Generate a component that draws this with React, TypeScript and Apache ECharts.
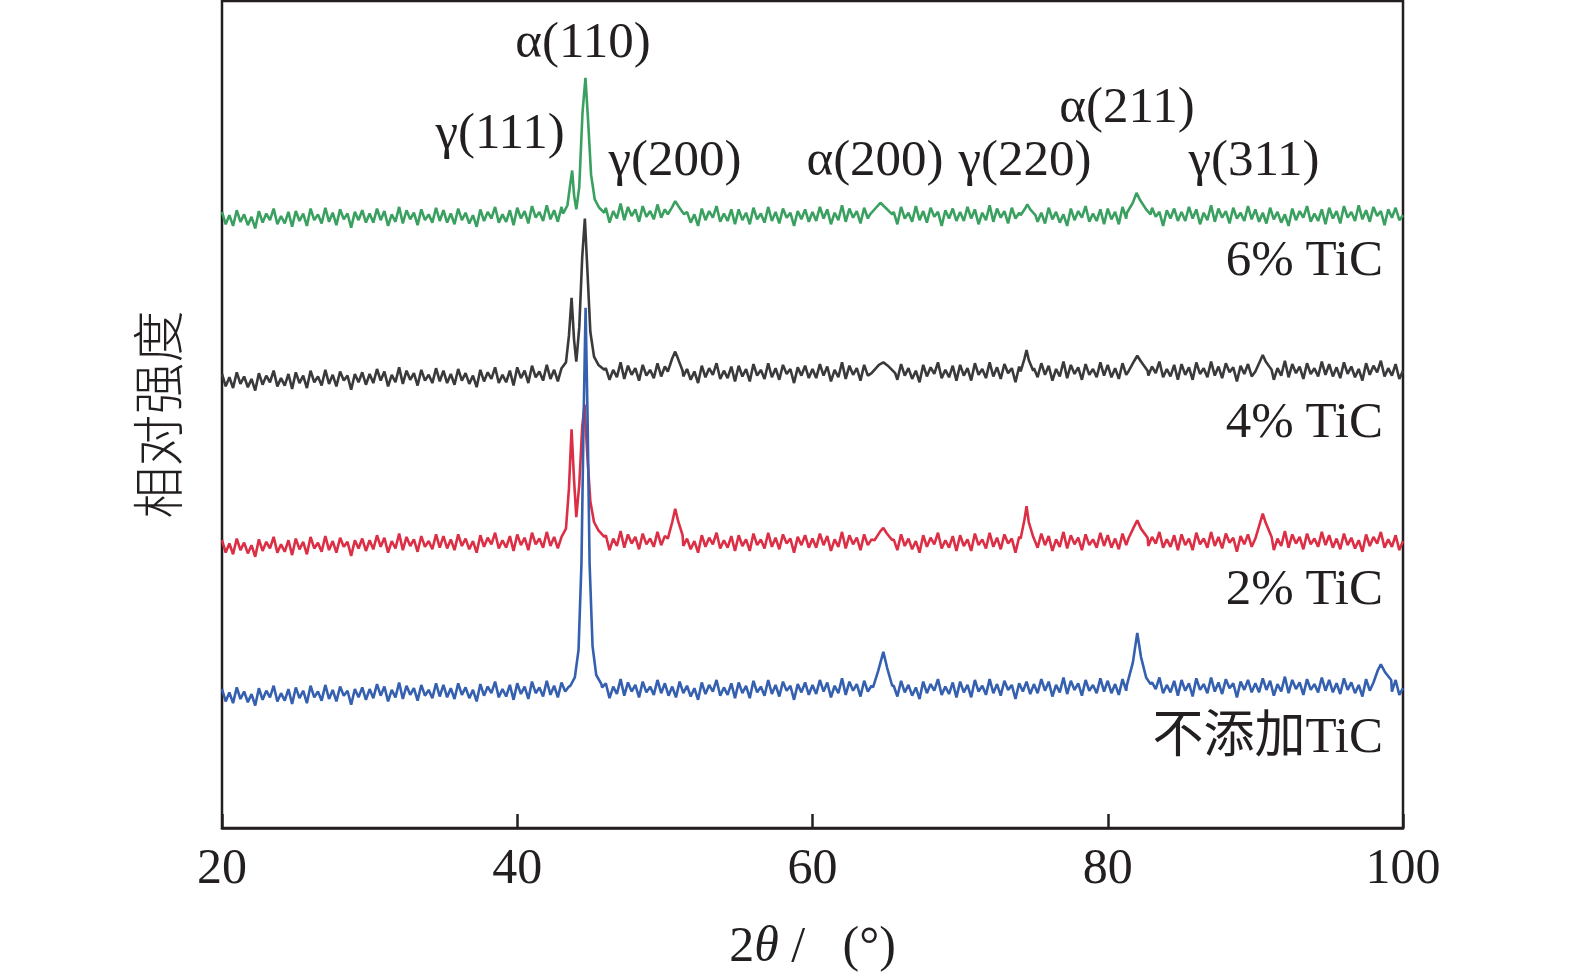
import React, { useEffect, useRef } from "react";
import * as echarts from "echarts";

// x axis: 2θ (degrees)
const X_MIN = 20;
const X_MAX = 100;
const X_TICK = 20;
// baseline samples every 0.25° from 20° to 100°
const BASE_START = 20;
const BASE_STEP = 0.25;

const seriesNames = ["2% TiC", "不添加TiC", "4% TiC", "6% TiC"];

// ---- 6% TiC (green) ----
const green6Base = [
  74.5, 73.0, 74.1, 72.8, 74.7, 73.3, 74.2, 72.9, 73.9, 72.5, 74.6, 73.2, 74.3, 73.5, 74.9, 73.0, 74.0, 73.1, 74.5, 72.7,
  74.6, 73.4, 74.3, 72.8, 74.9, 73.5, 74.2, 73.1, 75.0, 73.3, 74.4, 72.9, 74.8, 73.6, 74.3, 72.6, 74.5, 73.5, 74.7, 73.2,
  74.3, 73.2, 74.9, 73.5, 74.6, 72.8, 74.2, 73.3, 75.1, 73.1, 74.7, 73.6, 74.4, 72.9, 74.8, 73.5, 74.2, 73.2, 75.0, 73.4,
  74.7, 73.2, 74.3, 73.0, 74.9, 73.5, 74.4, 73.1, 74.1, 72.7, 74.8, 73.4, 74.5, 73.7, 75.1, 73.2, 74.2, 73.3, 74.7, 72.9,
  75.0, 73.7, 74.6, 73.1, 75.2, 73.8, 74.5, 73.4, 75.3, 73.6, 74.7, 73.3, 75.1, 74.0, 74.6, 73.9, 75.0, 74.3, 75.2, 74.5,
  74.9, 74.6, 75.1, 74.3, 75.0, 73.2, 74.6, 73.7, 75.5, 73.5, 75.1, 74.0, 74.8, 73.3, 75.2, 73.9, 74.6, 73.6, 75.4, 73.8,
  74.8, 73.3, 74.4, 73.1, 75.0, 73.6, 74.5, 73.2, 74.2, 72.8, 74.9, 73.5, 74.6, 73.8, 75.2, 73.3, 74.3, 73.4, 74.8, 73.0,
  74.8, 73.5, 74.4, 73.0, 75.0, 73.6, 74.3, 73.2, 75.1, 73.4, 74.5, 73.1, 74.9, 73.8, 74.4, 72.8, 74.6, 73.6, 74.8, 73.3,
  74.5, 73.4, 75.1, 73.7, 74.8, 73.0, 74.4, 73.5, 75.3, 73.3, 74.9, 73.8, 74.6, 73.1, 75.0, 73.7, 74.4, 73.4, 75.2, 73.6,
  74.9, 73.6, 74.5, 73.0, 75.1, 73.7, 74.4, 73.3, 75.2, 73.5, 74.6, 73.2, 75.0, 73.9, 74.5, 72.8, 74.7, 73.7, 74.9, 73.4,
  74.5, 73.4, 75.1, 73.7, 74.8, 73.0, 74.4, 73.5, 75.3, 73.3, 74.9, 73.8, 74.6, 73.1, 75.0, 73.7, 74.4, 73.4, 75.2, 73.6,
  74.8, 73.3, 74.4, 73.1, 75.0, 73.6, 74.5, 73.2, 74.2, 72.8, 74.9, 73.5, 74.6, 73.8, 75.2, 73.3, 74.3, 73.4, 74.8, 73.0,
  74.9, 73.6, 74.5, 73.0, 75.1, 73.7, 74.4, 73.3, 75.2, 73.5, 74.6, 73.2, 75.0, 73.9, 74.5, 72.8, 74.7, 73.7, 74.9, 73.4,
  74.5, 73.4, 75.1, 73.7, 74.8, 73.0, 74.4, 73.5, 75.3, 73.3, 74.9, 73.8, 74.6, 73.1, 75.0, 73.7, 74.4, 73.4, 75.2, 73.6,
  74.8, 73.3, 74.4, 73.1, 75.0, 73.6, 74.5, 73.2, 74.2, 72.8, 74.9, 73.5, 74.6, 73.8, 75.2, 73.3, 74.3, 73.4, 74.8, 73.0,
  75.0, 73.7, 74.6, 73.1, 75.2, 73.8, 74.5, 73.4, 75.3, 73.6, 74.7, 73.3, 75.1, 74.0, 74.6, 72.9, 74.8, 73.8, 75.0, 73.5,
  74.1,
];
const green6Peaks = [
  [[43.1, 74.3], [43.4, 75.3], [43.6, 78.0], [43.72, 79.5], [43.85, 76.5], [44.0, 74.8], [44.2, 77.5], [44.42, 86.5], [44.62, 90.7], [44.8, 85.5], [45.0, 79.0], [45.25, 76.0], [45.55, 75.0], [45.9, 74.4]],
  [[50.2, 74.2], [50.5, 75.1], [50.7, 75.8], [50.95, 75.1], [51.3, 74.2]],
  [[63.9, 74.2], [64.3, 75.0], [64.6, 75.6], [64.95, 75.0], [65.4, 74.2]],
  [[74.1, 74.1], [74.4, 74.9], [74.55, 75.4], [74.75, 74.8], [75.1, 74.1]],
  [[81.3, 74.4], [81.7, 75.6], [81.95, 76.8], [82.2, 75.9], [82.6, 74.8], [82.9, 74.2]],
];

// ---- 4% TiC (dark grey) ----
const grey4Base = [
  54.9, 53.4, 54.5, 53.2, 55.1, 53.7, 54.6, 53.3, 54.3, 52.9, 55.0, 53.6, 54.7, 53.9, 55.3, 53.4, 54.4, 53.5, 54.9, 53.1,
  55.1, 53.8, 54.7, 53.2, 55.3, 53.9, 54.6, 53.5, 55.4, 53.7, 54.8, 53.4, 55.2, 54.1, 54.7, 53.0, 54.9, 53.9, 55.1, 53.6,
  54.9, 53.8, 55.5, 54.1, 55.2, 53.4, 54.8, 53.9, 55.7, 53.7, 55.3, 54.2, 55.0, 53.5, 55.4, 54.1, 54.8, 53.8, 55.6, 54.0,
  55.3, 53.8, 54.9, 53.6, 55.5, 54.1, 55.0, 53.7, 54.7, 53.3, 55.4, 54.0, 55.1, 54.3, 55.7, 53.8, 54.8, 53.9, 55.3, 53.5,
  55.7, 54.4, 55.3, 53.8, 55.9, 54.5, 55.2, 54.1, 56.0, 54.3, 55.4, 54.0, 55.8, 55.0, 55.6, 55.1, 55.7, 55.3, 55.9, 55.5,
  55.8, 55.4, 55.9, 55.1, 55.6, 54.2, 55.4, 54.5, 56.3, 54.3, 55.9, 54.8, 55.6, 54.1, 56.0, 54.7, 55.4, 54.4, 56.2, 54.6,
  55.8, 54.3, 55.4, 54.1, 56.0, 54.6, 55.5, 54.2, 55.2, 53.8, 55.9, 54.5, 55.6, 54.8, 56.2, 54.3, 55.3, 54.4, 55.8, 54.0,
  55.9, 54.6, 55.5, 54.0, 56.1, 54.7, 55.4, 54.3, 56.2, 54.5, 55.6, 54.2, 56.0, 54.9, 55.5, 53.8, 55.7, 54.7, 55.9, 54.4,
  55.5, 54.4, 56.1, 54.7, 55.8, 54.0, 55.4, 54.5, 56.3, 54.3, 55.9, 54.8, 55.6, 54.1, 56.0, 54.7, 55.4, 54.4, 56.2, 54.6,
  55.9, 54.4, 55.5, 54.2, 56.1, 54.7, 55.6, 54.3, 55.3, 53.9, 56.0, 54.6, 55.7, 54.9, 56.3, 54.4, 55.4, 54.5, 55.9, 54.1,
  56.0, 54.7, 55.6, 54.1, 56.2, 54.8, 55.5, 54.4, 56.3, 54.6, 55.7, 54.3, 56.1, 55.0, 55.6, 53.9, 55.8, 54.8, 56.0, 54.5,
  55.6, 54.5, 56.2, 54.8, 55.9, 54.1, 55.5, 54.6, 56.4, 54.4, 56.0, 54.9, 55.7, 54.2, 56.1, 54.8, 55.5, 54.5, 56.3, 54.7,
  56.0, 54.5, 55.6, 54.3, 56.2, 54.8, 55.7, 54.4, 55.4, 54.0, 56.1, 54.7, 55.8, 55.0, 56.4, 54.5, 55.5, 54.6, 56.0, 54.2,
  56.1, 54.8, 55.7, 54.2, 56.3, 54.9, 55.6, 54.5, 56.4, 54.7, 55.8, 54.4, 56.2, 55.1, 55.7, 54.0, 55.9, 54.9, 56.1, 54.6,
  55.7, 54.6, 56.3, 54.9, 56.0, 54.2, 55.6, 54.7, 56.5, 54.5, 56.1, 55.0, 55.8, 54.3, 56.2, 54.9, 55.6, 54.6, 56.4, 54.8,
  56.1, 54.6, 55.7, 54.4, 56.3, 54.9, 55.8, 54.5, 55.5, 54.1, 56.2, 54.8, 55.9, 55.1, 56.5, 54.6, 55.6, 54.7, 56.1, 54.3,
  55.3,
];
const grey4Peaks = [
  [[43.0, 55.6], [43.3, 56.3], [43.5, 59.5], [43.68, 64.1], [43.85, 59.0], [44.0, 56.4], [44.2, 60.5], [44.4, 69.0], [44.58, 73.7], [44.75, 67.5], [44.95, 60.0], [45.2, 57.0], [45.5, 56.0], [45.9, 55.4]],
  [[50.2, 55.2], [50.5, 56.8], [50.7, 57.6], [50.9, 56.7], [51.2, 55.3]],
  [[64.0, 55.0], [64.5, 56.0], [64.8, 56.3], [65.1, 55.9], [65.6, 55.0]],
  [[74.1, 55.2], [74.35, 56.7], [74.5, 57.8], [74.65, 56.6], [74.95, 55.3]],
  [[81.4, 55.2], [81.8, 56.5], [82.0, 57.1], [82.25, 56.4], [82.7, 55.3]],
  [[90.0, 55.2], [90.35, 56.6], [90.5, 57.2], [90.7, 56.4], [91.1, 55.4]],
];

// ---- 2% TiC (red) ----
const red2Base = [
  34.8, 33.3, 34.4, 33.1, 35.0, 33.6, 34.5, 33.2, 34.2, 32.8, 34.9, 33.5, 34.6, 33.8, 35.2, 33.3, 34.3, 33.4, 34.8, 33.0,
  35.0, 33.7, 34.6, 33.1, 35.2, 33.8, 34.5, 33.4, 35.3, 33.6, 34.7, 33.3, 35.1, 34.0, 34.6, 32.9, 34.8, 33.8, 35.0, 33.5,
  34.8, 33.7, 35.4, 34.0, 35.1, 33.3, 34.7, 33.8, 35.6, 33.6, 35.2, 34.1, 34.9, 33.4, 35.3, 34.0, 34.7, 33.7, 35.5, 33.9,
  35.3, 33.8, 34.9, 33.6, 35.5, 34.1, 35.0, 33.7, 34.7, 33.3, 35.4, 34.0, 35.1, 34.3, 35.7, 33.8, 34.8, 33.9, 35.3, 33.5,
  35.5, 34.2, 35.1, 33.6, 35.7, 34.3, 35.0, 33.9, 35.8, 34.1, 35.2, 33.8, 35.6, 34.8, 35.4, 34.9, 35.5, 35.1, 35.7, 35.3,
  35.6, 35.2, 35.7, 34.9, 35.4, 33.6, 35.0, 34.1, 35.9, 33.9, 35.5, 34.4, 35.2, 33.7, 35.6, 34.3, 35.0, 34.0, 35.8, 34.2,
  35.3, 33.8, 34.9, 33.6, 35.5, 34.1, 35.0, 33.7, 34.7, 33.3, 35.4, 34.0, 35.1, 34.3, 35.7, 33.8, 34.8, 33.9, 35.3, 33.5,
  35.4, 34.1, 34.9, 33.5, 35.6, 34.2, 34.9, 33.8, 35.7, 34.0, 35.1, 33.7, 35.5, 34.4, 35.0, 33.3, 35.2, 34.2, 35.4, 33.9,
  35.0, 33.9, 35.6, 34.2, 35.3, 33.5, 34.9, 34.0, 35.8, 33.8, 35.4, 34.3, 35.1, 33.6, 35.5, 34.2, 34.9, 33.9, 35.7, 34.1,
  35.3, 33.8, 34.9, 33.6, 35.5, 34.1, 35.0, 33.7, 34.7, 33.3, 35.4, 34.0, 35.1, 34.3, 35.7, 33.8, 34.8, 33.9, 35.3, 33.5,
  35.4, 34.1, 34.9, 33.5, 35.6, 34.2, 34.9, 33.8, 35.7, 34.0, 35.1, 33.7, 35.5, 34.4, 35.0, 33.3, 35.2, 34.2, 35.4, 33.9,
  35.0, 33.9, 35.6, 34.2, 35.3, 33.5, 34.9, 34.0, 35.8, 33.8, 35.4, 34.3, 35.1, 33.6, 35.5, 34.2, 34.9, 33.9, 35.7, 34.1,
  35.4, 33.9, 35.0, 33.7, 35.6, 34.2, 35.1, 33.8, 34.8, 33.4, 35.5, 34.1, 35.2, 34.4, 35.8, 33.9, 34.9, 34.0, 35.4, 33.6,
  35.5, 34.2, 35.0, 33.6, 35.7, 34.3, 35.0, 33.9, 35.8, 34.1, 35.2, 33.8, 35.6, 34.5, 35.1, 33.4, 35.3, 34.3, 35.5, 34.0,
  35.1, 34.0, 35.7, 34.3, 35.4, 33.6, 35.0, 34.1, 35.9, 33.9, 35.5, 34.4, 35.2, 33.7, 35.6, 34.3, 35.0, 34.0, 35.8, 34.2,
  35.4, 33.9, 35.0, 33.7, 35.6, 34.2, 35.1, 33.8, 34.8, 33.4, 35.5, 34.1, 35.2, 34.4, 35.8, 33.9, 34.9, 34.0, 35.4, 33.6,
  34.7,
];
const red2Peaks = [
  [[43.0, 35.2], [43.3, 36.2], [43.5, 41.0], [43.68, 48.2], [43.85, 42.0], [44.0, 37.6], [44.2, 41.5], [44.4, 48.5], [44.56, 51.2], [44.75, 45.0], [44.95, 39.5], [45.2, 37.0], [45.5, 36.0], [45.9, 35.2]],
  [[50.2, 35.0], [50.5, 37.0], [50.7, 38.6], [50.9, 37.1], [51.2, 35.4]],
  [[64.2, 34.8], [64.6, 35.9], [64.8, 36.3], [65.0, 35.7], [65.4, 34.8]],
  [[74.1, 35.0], [74.35, 37.2], [74.5, 38.9], [74.65, 37.0], [74.95, 35.2]],
  [[81.4, 35.0], [81.8, 36.5], [82.0, 37.2], [82.25, 36.2], [82.7, 35.1]],
  [[90.0, 35.0], [90.3, 36.8], [90.5, 38.0], [90.7, 36.9], [91.1, 35.2]],
];

// ---- 不添加TiC (blue) ----
const blue0Base = [
  16.8, 15.3, 16.4, 15.1, 17.0, 15.6, 16.5, 15.2, 16.2, 14.8, 16.9, 15.5, 16.6, 15.8, 17.2, 15.3, 16.3, 15.4, 16.8, 15.0,
  17.0, 15.7, 16.6, 15.1, 17.2, 15.8, 16.5, 15.4, 17.3, 15.6, 16.7, 15.3, 17.1, 16.0, 16.6, 14.9, 16.8, 15.8, 17.0, 15.5,
  16.8, 15.7, 17.4, 16.0, 17.1, 15.3, 16.7, 15.8, 17.6, 15.6, 17.2, 16.1, 16.9, 15.4, 17.3, 16.0, 16.7, 15.7, 17.5, 15.9,
  17.3, 15.8, 16.9, 15.6, 17.5, 16.1, 17.0, 15.7, 16.7, 15.3, 17.4, 16.0, 17.1, 16.3, 17.7, 15.8, 16.8, 15.9, 17.3, 15.5,
  17.5, 16.2, 17.1, 15.6, 17.7, 16.3, 17.0, 15.9, 17.8, 16.1, 17.2, 15.8, 17.6, 16.5, 17.1, 15.4, 17.3, 17.1, 17.7, 17.3,
  17.6, 17.2, 17.7, 17.0, 17.5, 15.7, 17.1, 16.2, 18.0, 16.0, 17.6, 16.5, 17.3, 15.8, 17.7, 16.4, 17.1, 16.1, 17.9, 16.3,
  17.5, 16.0, 17.1, 15.8, 17.7, 16.3, 17.2, 15.9, 16.9, 15.5, 17.6, 16.2, 17.3, 16.5, 17.9, 16.0, 17.0, 16.1, 17.5, 15.7,
  17.6, 16.3, 17.2, 15.7, 17.8, 16.4, 17.1, 16.0, 17.9, 16.2, 17.3, 15.9, 17.7, 16.6, 17.2, 15.5, 17.4, 16.4, 17.6, 16.1,
  17.3, 16.2, 17.9, 16.5, 17.6, 15.8, 17.2, 16.3, 18.1, 16.1, 17.7, 16.6, 17.4, 15.9, 17.8, 16.5, 17.2, 16.2, 18.0, 16.4,
  17.6, 16.1, 17.2, 15.9, 17.8, 16.4, 17.3, 16.0, 17.0, 15.6, 17.7, 16.3, 17.4, 16.6, 18.0, 16.1, 17.1, 16.2, 17.6, 15.8,
  17.7, 16.4, 17.3, 15.8, 17.9, 16.5, 17.2, 16.1, 18.0, 16.3, 17.4, 16.0, 17.8, 16.7, 17.3, 15.6, 17.5, 16.5, 17.7, 16.2,
  17.4, 16.3, 18.0, 16.6, 17.7, 15.9, 17.3, 16.4, 18.2, 16.2, 17.8, 16.7, 17.5, 16.0, 17.9, 16.6, 17.3, 16.3, 18.1, 16.5,
  17.8, 16.3, 17.4, 16.1, 18.0, 16.6, 17.5, 16.2, 17.2, 15.8, 17.9, 16.5, 17.6, 16.8, 18.2, 16.3, 17.3, 16.4, 17.8, 16.0,
  17.9, 16.6, 17.5, 15.9, 18.1, 16.7, 17.4, 16.3, 18.2, 16.5, 17.6, 16.2, 18.0, 16.9, 17.5, 15.8, 17.7, 16.7, 17.9, 16.4,
  17.5, 16.4, 18.1, 16.7, 17.8, 16.0, 17.4, 16.5, 18.3, 16.3, 17.9, 16.8, 17.6, 16.1, 18.0, 16.7, 17.4, 16.4, 18.2, 16.6,
  17.9, 16.4, 17.5, 16.2, 18.1, 16.7, 17.6, 16.3, 17.3, 15.9, 18.0, 16.6, 17.7, 16.9, 18.3, 16.4, 17.4, 16.5, 17.9, 16.1,
  16.9,
];
const blue0Peaks = [
  [[43.6, 17.2], [43.9, 18.2], [44.15, 21.5], [44.35, 32.0], [44.5, 50.0], [44.63, 62.9], [44.76, 50.0], [44.9, 32.0], [45.1, 22.0], [45.35, 18.5], [45.7, 17.4]],
  [[64.1, 17.0], [64.45, 19.0], [64.8, 21.3], [65.05, 19.4], [65.4, 17.2]],
  [[81.3, 17.3], [81.7, 20.0], [82.0, 23.6], [82.25, 20.7], [82.6, 18.2], [82.9, 17.4]],
  [[98.0, 17.6], [98.3, 19.1], [98.5, 19.8], [98.8, 18.8], [99.2, 17.9]],
];

// peak annotations
const peakLabels = ["α(110)", "γ(111)", "γ(200)", "α(200)", "γ(220)", "α(211)", "γ(311)"];

const FONT = "'Liberation Serif', 'Times New Roman', 'Noto Sans CJK SC', serif";
const TEXT_COLOR = "#231f20";

function buildSeries(base: number[], clusters: number[][][]): number[][] {
  const pts: number[][] = [];
  base.forEach((y, i) => {
    const x = BASE_START + i * BASE_STEP;
    const inside = clusters.some((c) => x >= c[0][0] && x <= c[c.length - 1][0]);
    if (!inside) pts.push([x, y]);
  });
  clusters.forEach((c) => c.forEach((p) => pts.push(p)));
  pts.sort((a, b) => a[0] - b[0]);
  return pts;
}

export default function App() {
  const ref = useRef<HTMLDivElement>(null);

  useEffect(() => {
    if (!ref.current) return;
    const chart = echarts.init(ref.current, null, { renderer: "svg" });

    const seriesDefs = [
      { name: seriesNames[0], color: "#dc2f45", data: buildSeries(red2Base, red2Peaks) },
      { name: seriesNames[1], color: "#3560b0", data: buildSeries(blue0Base, blue0Peaks) },
      { name: seriesNames[2], color: "#3a3a3c", data: buildSeries(grey4Base, grey4Peaks) },
      { name: seriesNames[3], color: "#3aa060", data: buildSeries(green6Base, green6Peaks) },
    ];

    const label = (text: string, x: number, y: number, align = "center") => ({
      type: "text",
      x,
      y,
      style: {
        text,
        font: `51px ${FONT}`,
        fill: TEXT_COLOR,
        textAlign: align,
        textVerticalAlign: "middle",
      },
      z: 100,
    });

    chart.setOption({
      animation: false,
      backgroundColor: "#ffffff",
      grid: {
        left: 222,
        right: 172,
        top: 1,
        bottom: 152,
        show: true,
        borderColor: TEXT_COLOR,
        borderWidth: 2.5,
        backgroundColor: "transparent",
      },
      xAxis: {
        type: "value",
        min: X_MIN,
        max: X_MAX,
        interval: X_TICK,
        axisLine: { show: true, lineStyle: { color: TEXT_COLOR, width: 2.5 } },
        axisTick: { show: true, inside: true, length: 14, lineStyle: { color: TEXT_COLOR, width: 2.5 } },
        splitLine: { show: false },
        axisLabel: {
          color: TEXT_COLOR,
          fontFamily: FONT,
          fontSize: 50,
          margin: 13,
        },
        name: "{a|2}{i|θ}{a| /   (°)}",
        nameLocation: "middle",
        nameGap: 91,
        nameTextStyle: {
          rich: {
            a: { fontFamily: FONT, fontSize: 50, color: TEXT_COLOR },
            i: { fontFamily: FONT, fontSize: 50, color: TEXT_COLOR, fontStyle: "italic" },
          },
        },
      },
      yAxis: {
        type: "value",
        min: 0,
        max: 100,
        axisLine: { show: false },
        axisTick: { show: false },
        axisLabel: { show: false },
        splitLine: { show: false },
        name: "相对强度",
        nameLocation: "middle",
        nameGap: 41,
        nameTextStyle: {
          fontFamily: "'Noto Sans CJK SC', sans-serif",
          fontSize: 52,
          fontWeight: 300,
          color: TEXT_COLOR,
        },
      },
      series: seriesDefs.map((s) => ({
        type: "line",
        name: s.name,
        data: s.data,
        showSymbol: false,
        symbol: "none",
        lineStyle: { color: s.color, width: 2.6 },
        itemStyle: { color: s.color },
        silent: true,
      })),
      graphic: [
        label(peakLabels[0], 583, 40),
        label(peakLabels[1], 500, 131),
        label(peakLabels[2], 675, 158),
        label(peakLabels[3], 875, 158),
        label(peakLabels[4], 1025, 158),
        label(peakLabels[5], 1127, 105),
        label(peakLabels[6], 1254, 158),
        label(seriesNames[3], 1383, 258, "right"),
        label(seriesNames[2], 1383, 420, "right"),
        label(seriesNames[0], 1383, 587, "right"),
        label(seriesNames[1], 1383, 735, "right"),
      ],
    });

    return () => chart.dispose();
  }, []);

  return (
    <div
      ref={ref}
      style={{ position: "absolute", left: 0, top: 0, width: 1575, height: 980, background: "#fff" }}
    />
  );
}
